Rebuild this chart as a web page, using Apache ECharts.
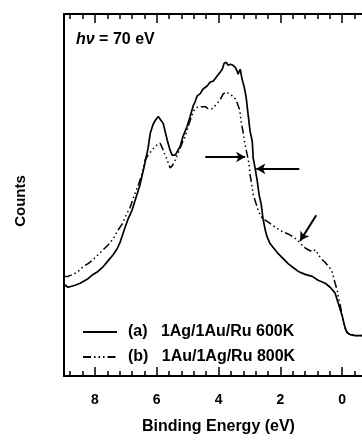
<!DOCTYPE html>
<html>
<head>
<meta charset="utf-8">
<script src="https://cdn.jsdelivr.net/npm/echarts@6/dist/echarts.min.js"></script>
<style>html,body{margin:0;padding:0;background:#fff}#c{width:362px;height:440px}</style>
</head>
<body>
<div id="c"></div>
<script>
// Binding energy (eV) and counts (arb.) for curve (a)
const energyA = [9.00,8.87,8.64,8.48,8.25,8.06,7.90,7.73,7.57,7.41,7.28,7.18,7.02,6.93,6.80,6.67,6.54,6.38,6.28,6.21,6.12,6.05,5.95,5.89,5.79,5.73,5.66,5.57,5.50,5.40,5.34,5.24,5.15,5.02,4.92,4.82,4.76,4.69,4.60,4.50,4.37,4.27,4.17,4.05,3.95,3.88,3.82,3.75,3.69,3.62,3.53,3.46,3.40,3.37,3.30,3.24,3.17,3.11,3.04,2.98,2.91,2.88,2.82,2.75,2.69,2.62,2.56,2.49,2.43,2.33,2.20,2.07,1.91,1.75,1.59,1.42,1.20,0.97,0.78,0.55,0.39,0.23,0.13,0.06,0.00,-0.06,-0.10,-0.16,-0.26,-0.42,-0.65,-0.97];
const countsA = [93,90,92,94,98,103,106,111,117,123,129,136,151,159,168,181,194,216,231,246,255,259,263,263,256,248,239,229,224,224,226,233,243,253,263,274,278,284,286,291,294,298,299,304,308,311,317,318,315,316,315,313,309,306,311,301,293,283,264,248,238,221,211,198,184,174,159,148,141,134,129,124,119,114,110,106,103,101,97,94,90,84,74,67,61,53,48,44,42,41,41,41];
// curve (b)
const energyB = [9.00,8.87,8.71,8.54,8.38,8.22,8.06,7.90,7.73,7.57,7.41,7.25,7.12,6.99,6.86,6.73,6.60,6.47,6.38,6.28,6.15,6.05,5.99,5.89,5.79,5.73,5.66,5.57,5.50,5.40,5.31,5.18,5.08,4.98,4.92,4.82,4.76,4.66,4.53,4.43,4.34,4.21,4.05,3.95,3.85,3.75,3.69,3.59,3.53,3.46,3.40,3.33,3.30,3.27,3.20,3.14,3.07,3.01,2.98,2.91,2.88,2.78,2.72,2.65,2.59,2.49,2.39,2.27,2.07,1.91,1.75,1.59,1.46,1.36,1.26,1.10,0.97,0.87,0.81,0.71,0.65,0.55,0.49,0.39,0.32,0.23,0.16,0.13,0.06,0.00,-0.06,-0.10,-0.16,-0.26,-0.42,-0.65,-0.97];
const countsB = [101,101,103,106,111,114,118,123,128,133,139,148,154,163,171,183,193,206,219,224,229,233,234,236,229,224,219,211,213,219,226,236,243,253,259,268,271,273,273,273,271,271,276,280,286,288,288,285,283,281,277,271,266,258,246,234,224,214,204,191,184,174,168,163,160,158,156,153,149,146,144,141,138,135,131,128,126,128,126,120,118,115,114,109,105,94,87,81,71,61,53,48,44,42,41,41,41];
const seriesNames = ['(a)   1Ag/1Au/Ru 600K', '(b)   1Au/1Ag/Ru 800K'];
const majorTicks = [0, 2, 4, 6, 8];
const minorTicks = [-0.4,0.4,0.8,1.2,1.6,2.4,2.8,3.2,3.6,4.4,4.8,5.2,5.6,6.4,6.8,7.2,7.6,8.4,8.8];
// arrows: [fromE, fromC, toE, toC]
const arrow1 = [4.43, 222, 3.14, 222];
const arrow2 = [1.39, 210, 2.78, 210];
const arrow3 = [0.84, 163, 1.36, 137];

const FONT = 'Liberation Sans, Arial, Helvetica, sans-serif';
const chart = echarts.init(document.getElementById('c'), null, {renderer: 'canvas'});
const xmin = -0.64, xmax = 9.0;
function xa(pos, ticks, len, showLine, labels) {
  return {
    type: 'value', position: pos, min: xmin, max: xmax, inverse: true,
    axisLine: {show: showLine, onZero: false, lineStyle: {color: '#000', width: 2}},
    axisTick: {show: true, inside: true, length: len, customValues: ticks, lineStyle: {color: '#000', width: 1.5}},
    axisLabel: labels ? {show: true, customValues: majorTicks, margin: 17, color: '#000', fontSize: 14, fontWeight: 'bold', fontFamily: FONT} : {show: false},
    splitLine: {show: false},
    name: labels ? 'Binding Energy (eV)' : '',
    nameLocation: 'middle', nameGap: 43,
    nameTextStyle: {color: '#000', fontSize: 16, fontWeight: 'bold', fontFamily: FONT, padding: [0, 0, 0, 11]}
  };
}
function arrowLine(a) {
  return [{coord: [a[0], a[1]]}, {coord: [a[2], a[3]]}];
}
const option = {
  animation: false,
  backgroundColor: '#fff',
  title: {
    text: '{i|h\u03bd} = 70 eV',
    left: 76, top: 32, padding: 0,
    textStyle: {color: '#000', fontSize: 16, fontWeight: 'bold', fontFamily: FONT,
      rich: {i: {fontStyle: 'italic', fontSize: 16, fontWeight: 'bold', fontFamily: FONT, color: '#000'}}}
  },
  grid: {left: 64, right: 0, top: 14, bottom: 59, containLabel: false},
  xAxis: [
    xa('bottom', majorTicks, 9, true, true),
    xa('bottom', minorTicks, 5, false, false),
    xa('top', majorTicks, 9, true, false),
    xa('top', minorTicks, 5, false, false)
  ],
  yAxis: {
    type: 'value', min: 0, max: 367,
    axisLine: {show: true, onZero: false, lineStyle: {color: '#000', width: 2}},
    axisTick: {show: false}, axisLabel: {show: false}, splitLine: {show: false},
    name: 'Counts', nameLocation: 'middle', nameRotate: 90, nameGap: 36,
    nameTextStyle: {color: '#000', fontSize: 15, fontWeight: 'bold', fontFamily: FONT, padding: [0, 12, 0, 0]}
  },
  legend: {
    orient: 'vertical', left: 82, top: 324, itemWidth: 34, itemHeight: 12, itemGap: 9,
    padding: 0,
    itemStyle: {opacity: 0},
    textStyle: {color: '#000', fontSize: 16, fontWeight: 'bold', fontFamily: FONT, padding: [0, 0, 0, 6]},
    data: seriesNames
  },
  series: [
    {
      name: seriesNames[0], type: 'line', xAxisIndex: 0, showSymbol: false, symbol: 'none',
      lineStyle: {color: '#000', width: 1.7}, itemStyle: {color: '#000'},
      data: energyA.map((e, i) => [e, countsA[i]]),
      markLine: {
        silent: true, symbol: ['none', 'arrow'], symbolSize: [8, 9],
        label: {show: false}, lineStyle: {color: '#000', width: 2, type: 'solid'},
        data: [arrowLine(arrow1), arrowLine(arrow2), arrowLine(arrow3)]
      }
    },
    {
      name: seriesNames[1], type: 'line', xAxisIndex: 0, showSymbol: false, symbol: 'none',
      lineStyle: {color: '#000', width: 1.5, type: [8, 3, 1.5, 3, 1.5, 3, 1.5, 3]}, itemStyle: {color: '#000'},
      data: energyB.map((e, i) => [e, countsB[i]])
    }
  ]
};
chart.setOption(option);
</script>
</body>
</html>
